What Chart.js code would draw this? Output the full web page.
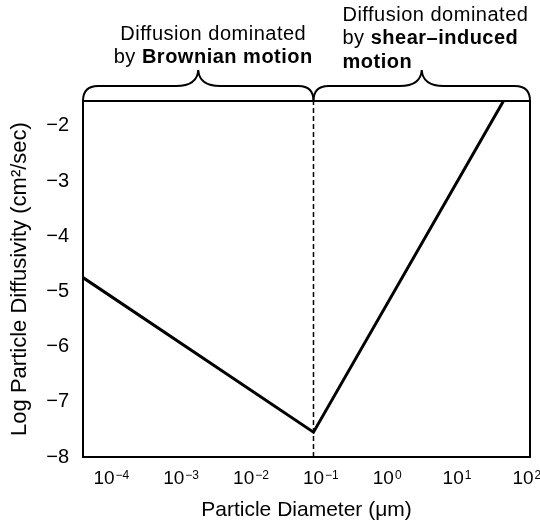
<!DOCTYPE html>
<html>
<head>
<meta charset="utf-8">
<script src="https://cdn.jsdelivr.net/npm/chart.js@4.4.1/dist/chart.umd.min.js"></script>
<style>
  html, body { margin: 0; padding: 0; background: #fff; }
  #wrap { width: 540px; height: 526px; position: relative; }
</style>
</head>
<body>
<div id="wrap"><canvas id="c" width="540" height="526"></canvas></div>
<script>
// ---- data (log10 units) ----
const xTickExponents = [-4, -3, -2, -1, 0, 1, 2];          // tick labels 10^n (µm)
const yTickValues    = [-8, -7, -6, -5, -4, -3, -2];        // log diffusivity ticks
const logDiameter    = [-4.3, -1, 1.72];                    // log10 particle diameter (µm)
const logDiffusivity = [-4.75, -7.55, -1.55];               // log10 diffusivity (cm²/sec)
const regimeBoundary = [-1];                                // boundary between regimes (log10 µm)
const xRange = [-4.3, 2.1];
const yRange = [-8, -1.55];
const leftRegimeText  = [[['Diffusion dominated', false]], [['by ', false], ['Brownian motion', true]]];
const rightRegimeText = [[['Diffusion dominated', false]], [['by ', false], ['shear–induced', true]], [['motion', true]]];

const FAMILY = "'Liberation Sans', Arial, Helvetica, sans-serif";

const framePlugin = {
  id: 'frame',
  afterDatasetsDraw(chart) {
    const {ctx, chartArea: a} = chart;
    ctx.save();
    ctx.strokeStyle = '#000';
    ctx.lineWidth = 2;
    ctx.beginPath();
    ctx.moveTo(a.left, a.top);
    ctx.lineTo(a.right, a.top);
    ctx.lineTo(a.right, a.bottom);
    ctx.stroke();
    ctx.restore();
  }
};

// x tick labels drawn as 10 with a raised exponent, at the scale's tick pixels
const xLabelPlugin = {
  id: 'xlabels',
  afterDraw(chart) {
    const {ctx, chartArea: a, scales: {x}} = chart;
    ctx.save();
    ctx.fillStyle = '#000';
    ctx.textBaseline = 'alphabetic';
    xTickExponents.forEach(e => {
      const px = x.getPixelForValue(e);
      ctx.font = '19px ' + FAMILY;
      ctx.textAlign = 'center';
      const w = ctx.measureText('10').width;
      ctx.fillText('10', px, a.bottom + 27);
      ctx.font = '12px ' + FAMILY;
      ctx.textAlign = 'left';
      ctx.fillText(String(e).replace('-', '−'), px + w / 2 + 1, a.bottom + 22);
    });
    ctx.restore();
  }
};

function drawBrace(ctx, x1, x2, yBase) {
  const h = 15, tip = 16, r = 15, r2 = 22;
  const yH = yBase - h, xm = (x1 + x2) / 2;
  ctx.beginPath();
  ctx.moveTo(x1, yBase);
  ctx.quadraticCurveTo(x1, yH, x1 + r, yH);
  ctx.lineTo(xm - r2, yH);
  ctx.quadraticCurveTo(xm - 1, yH, xm, yH - tip);
  ctx.quadraticCurveTo(xm + 1, yH, xm + r2, yH);
  ctx.lineTo(x2 - r, yH);
  ctx.quadraticCurveTo(x2, yH, x2, yBase);
  ctx.stroke();
}

function drawRich(ctx, parts, x, y, align) {
  const fonts = parts.map(p => (p[1] ? 'bold ' : '') + '20px ' + FAMILY);
  const widths = parts.map((p, i) => { ctx.font = fonts[i]; return ctx.measureText(p[0]).width; });
  const total = widths.reduce((s, w) => s + w, 0);
  let cx = align === 'center' ? x - total / 2 : x;
  parts.forEach((p, i) => {
    ctx.font = fonts[i];
    ctx.fillText(p[0], cx, y);
    cx += widths[i];
  });
}

const annotatePlugin = {
  id: 'annotate',
  afterDraw(chart) {
    const {ctx, chartArea: a, scales: {x}} = chart;
    const xb = x.getPixelForValue(regimeBoundary[0]);
    ctx.save();
    ctx.strokeStyle = '#000';
    ctx.lineWidth = 2;
    drawBrace(ctx, a.left, xb, a.top);
    drawBrace(ctx, xb, a.right, a.top);
    ctx.fillStyle = '#000';
    ctx.textBaseline = 'alphabetic';
    ctx.textAlign = 'left';
    try { ctx.letterSpacing = '0.5px'; } catch (e) {}
    const leftCenter = (a.left + xb) / 2 + 15;
    const leftBase = [40, 63];
    leftRegimeText.forEach((line, i) => drawRich(ctx, line, leftCenter, leftBase[i], 'center'));
    const rightX = xb + 29;
    const rightBase = [21, 44, 68];
    rightRegimeText.forEach((line, i) => drawRich(ctx, line, rightX, rightBase[i], 'left'));
    ctx.restore();
  }
};

const points = logDiameter.map((v, i) => ({x: v, y: logDiffusivity[i]}));
const boundaryPts = [{x: regimeBoundary[0], y: yRange[0]}, {x: regimeBoundary[0], y: yRange[1]}];

new Chart(document.getElementById('c'), {
  type: 'scatter',
  data: {
    datasets: [
      {
        data: points, showLine: true, borderColor: '#000', borderWidth: 3,
        pointRadius: 0, borderJoinStyle: 'miter', tension: 0
      },
      {
        data: boundaryPts, showLine: true, borderColor: '#000', borderWidth: 1.5,
        borderDash: [5, 3], pointRadius: 0
      }
    ]
  },
  options: {
    responsive: false,
    devicePixelRatio: 1,
    animation: false,
    layout: {padding: {top: 101, right: 10, bottom: 3, left: 2}},
    plugins: {legend: {display: false}, tooltip: {enabled: false}},
    scales: {
      x: {
        type: 'linear', min: xRange[0], max: xRange[1],
        afterBuildTicks: s => { s.ticks = xTickExponents.map(v => ({value: v})); },
        afterFit: s => { s.height = 66; },
        grid: {display: false, drawTicks: false},
        border: {display: true, width: 2, color: '#000'},
        ticks: {display: false},
        title: {
          display: true, text: 'Particle Diameter (μm)', color: '#000',
          font: {size: 21, family: FAMILY}, padding: {top: 9, bottom: 0}
        }
      },
      y: {
        type: 'linear', min: yRange[0], max: yRange[1],
        afterBuildTicks: s => { s.ticks = yTickValues.map(v => ({value: v})); },
        afterFit: s => { s.width = 81; },
        grid: {display: false, drawTicks: false},
        border: {display: true, width: 2, color: '#000'},
        ticks: {
          padding: 14, color: '#000', autoSkip: false,
          font: {size: 20, family: FAMILY},
          callback: v => '−' + Math.abs(v)
        },
        title: {
          display: true, text: 'Log Particle Diffusivity (cm²/sec)', color: '#000',
          font: {size: 22, family: FAMILY}, padding: {top: 5, bottom: 0}
        }
      }
    }
  },
  plugins: [framePlugin, xLabelPlugin, annotatePlugin]
});
</script>
</body>
</html>
